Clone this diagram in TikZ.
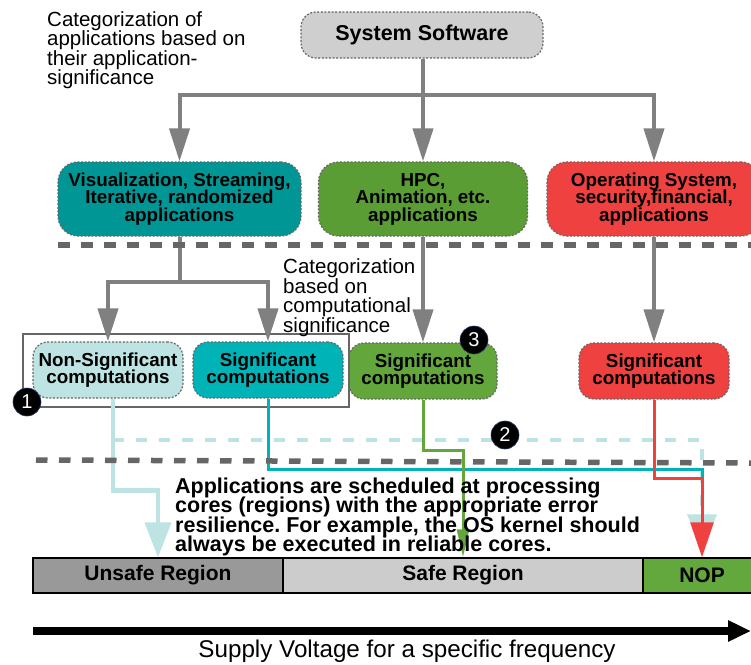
\documentclass[tikz,border=0pt]{standalone}
\usepackage{fontspec}
\setmainfont{Liberation Sans}
\usetikzlibrary{arrows.meta}

\definecolor{sysgray}{RGB}{207,207,207}
\definecolor{appteal}{RGB}{0,150,150}
\definecolor{appgreen}{RGB}{91,157,53}
\definecolor{appred}{RGB}{239,66,64}
\definecolor{nonsigcyan}{RGB}{189,227,227}
\definecolor{sigteal}{RGB}{0,179,183}
\definecolor{siggreen}{RGB}{99,167,60}
\definecolor{arrowgray}{RGB}{128,128,128}
\definecolor{dashgray}{RGB}{102,102,102}
\definecolor{unsafegray}{RGB}{153,153,153}
\definecolor{safegray}{RGB}{204,204,204}
\definecolor{nopgreen}{RGB}{98,168,60}

\begin{document}
\lineskiplimit=-20pt
\frenchspacing
\begin{tikzpicture}[x=1pt, y=-1pt,
	boxfont/.style={font=\bfseries\fontsize{18.8}{17.5}\selectfont},
	dotborder/.style={draw=dashgray, line width=1.2pt, dash pattern=on 2pt off 1.6pt},
	appbox/.style={dotborder, rounded corners=20pt, minimum height=74pt, inner sep=0pt, align=center, boxfont},
	compbox/.style={dotborder, rounded corners=15pt, minimum width=150pt, minimum height=56pt, inner sep=0pt, align=center, boxfont},
	regionbox/.style={draw=black, line width=1.5pt, minimum height=35pt, inner sep=0pt, font=\bfseries\fontsize{21}{21}\selectfont},
	grayarrow/.style={draw=arrowgray, line width=4pt, -{Triangle[width=20pt,length=33pt]}},
	numcircle/.style={circle, fill=black, draw={rgb,255:red,40;green,60;blue,110}, line width=0.6pt, minimum size=28pt, inner sep=0pt, text=white, font=\fontsize{20}{20}\selectfont},
	sepline/.style={draw=dashgray, line width=5.5pt, dash pattern=on 11.5pt off 11.5pt},
	note/.style={anchor=north west, inner sep=0pt, align=left, font=\fontsize{20.5}{19.5}\selectfont}
	]
	\useasboundingbox (0,0) rectangle (751,664);

	% top level
	\node (sys) at (422,35) [dotborder, fill=sysgray, rounded corners=15pt, minimum width=242pt, minimum height=46pt, font=\bfseries\fontsize{21.5}{21.5}\selectfont] {System Software};
	\node (note1) at (47,11.3) [note] {Categorization of\\applications based on\\their application-\\significance};

	% application classes
	\node (vis) at (179.5,199) [appbox, fill=appteal, minimum width=243pt] {Visualization, Streaming,\\Iterative, randomized\\applications};
	\node (hpc) at (423,199) [appbox, fill=appgreen, minimum width=209pt] {HPC,\\Animation, etc.\\applications};
	\node (os) at (654,199) [appbox, fill=appred, minimum width=214pt] {Operating System,\\security,financial,\\applications};
	\coordinate (split1) at (423,95);
	\draw[grayarrow] (sys.south -| split1) -- (split1) -| (vis.north);
	\draw[grayarrow] (split1) -| (os.north);
	\draw[grayarrow] (sys.south -| split1) -- (hpc.north);

	% computation classes
	\node (nonsig) at (108,370) [compbox, fill=nonsigcyan] {Non-Significant\\computations};
	\node (sigvis) at (268,370) [compbox, fill=sigteal] {Significant\\computations};
	\node (sighpc) at (423,371) [compbox, fill=siggreen, minimum width=148pt] {Significant\\computations};
	\node (sigos) at (654,371) [compbox, fill=appred] {Significant\\computations};
	\draw[draw=dashgray, line width=1.5pt] (23,334) rectangle (349,407);
	\node (note2) at (283,258.5) [note] {Categorization\\based on\\computational\\significance};
	\coordinate (split2) at (179.5,282);
	\draw[grayarrow] (vis.south) -- (split2) -| (nonsig.north);
	\draw[grayarrow] (split2) -| (sigvis.north);
	\draw[grayarrow] (hpc.south) -- (sighpc.north);
	\draw[grayarrow] (os.south) -- (sigos.north);

	% regions
	\node (unsafe) at (158,575.5) [regionbox, fill=unsafegray, minimum width=250pt] {Unsafe Region};
	\node (safe) at (463,575.5) [regionbox, fill=safegray, minimum width=360pt] {Safe Region};
	\node (nop) at (702,575.5) [regionbox, fill=nopgreen, minimum width=118pt] {NOP};

	% scheduling paths
	\coordinate (branch) at (113,440);
	\draw[nonsigcyan, line width=4.5pt, dash pattern=on 11pt off 12pt, -{Triangle[width=29pt,length=35pt]}] (branch) -| ([yshift=8pt]nop.north);
	\draw[nonsigcyan, line width=4.5pt, -{Triangle[width=26pt,length=35pt]}] ([xshift=5pt]nonsig.south) -- ++(0,92) -| (unsafe.north);
	\draw[sigteal, line width=3pt] (sigvis.south) -- ++(0,71) -| ([yshift=30pt]nop.north);
	\draw[siggreen, line width=3pt, -{Triangle[width=12pt,length=28pt]}] (sighpc.south) -- ++(0,51) -| (safe.north);
	\draw[appred, line width=3pt, -{Triangle[width=23pt,length=35pt]}] (sigos.south) -- ++(0,79) -| (nop.north);

	% separators
	\draw[sepline] (58,245) -- (751,245);
	\draw[sepline] (36,460) -- (751,463);

	\node (num1) at (27,402) [numcircle] {1};
	\node (num2) at (505,435) [numcircle] {2};
	\node (num3) at (474,340) [numcircle] {3};

	\node (note3) at (175,477.6) [note, font=\bfseries\fontsize{21.5}{19.5}\selectfont] {Applications are scheduled at processing\\cores (regions) with the appropriate error\\resilience. For example, the OS kernel should\\always be executed in reliable cores.};

	% voltage axis
	\coordinate (vstart) at (33,631);
	\coordinate (vend) at (751,631);
	\draw[line width=7.5pt, -{Triangle[width=20pt,length=23pt]}] (vstart) -- (vend);
	\node (vlabel) at (407,657) [anchor=base, font=\fontsize{24.2}{24.2}\selectfont] {Supply Voltage for a specific frequency};
\end{tikzpicture}
\end{document}
